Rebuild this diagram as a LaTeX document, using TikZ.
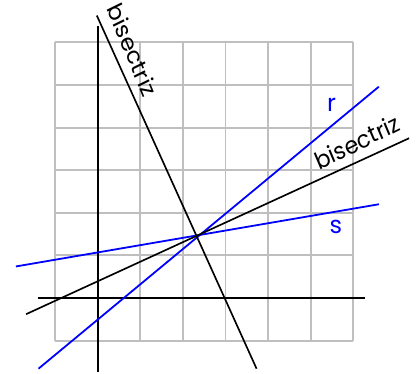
\documentclass[tikz,border=0pt]{standalone}
\usepackage{fontspec}
\setmainfont{Poppins}
\begin{document}
\begin{tikzpicture}[
  gridline/.style={draw=black!25, line width=1.3pt},
  axisline/.style={draw=black, line width=1.1pt},
  bisline/.style={draw=black, line width=1.1pt},
  blueline/.style={draw=blue, line width=1.2pt},
  lbl/.style={inner sep=0pt, font=\fontsize{16}{18}\selectfont},
  bislbl/.style={lbl, anchor=base, xscale=0.92}
]
\useasboundingbox (-2.293,-1.784) rectangle (7.566,6.995);
\draw[gridline] (-1,-1) grid (6,6);
\coordinate (xa) at (-1.41,0);
\coordinate (xb) at (6.27,0);
\coordinate (ya) at (0,-1.74);
\coordinate (yb) at (0,6.38);
\coordinate (sa) at (-1.92,0.74);
\coordinate (sb) at (6.60,2.20);
\coordinate (ra) at (-1.39,-1.66);
\coordinate (rb) at (6.60,4.96);
\coordinate (ba) at (-1.68,-0.38);
\coordinate (bb) at (7.31,3.75);
\coordinate (ca) at (-0.02,6.63);
\coordinate (cb) at (3.73,-1.66);
\draw[axisline] (xa) -- (xb);
\draw[axisline] (ya) -- (yb);
\draw[blueline] (sa) -- (sb);
\draw[blueline] (ra) -- (rb);
\draw[bisline] (ba) -- (bb);
\draw[bisline] (ca) -- (cb);
\node[bislbl, rotate=-65.7] (t1) at (0.64,5.74) {bisectriz};
\node[bislbl, rotate=24.7] (t2) at (6.17,3.47) {bisectriz};
\node[lbl, text=blue] (tr) at (5.49,4.53) {r};
\node[lbl, text=blue] (ts) at (5.59,1.67) {s};
\end{tikzpicture}
\end{document}
